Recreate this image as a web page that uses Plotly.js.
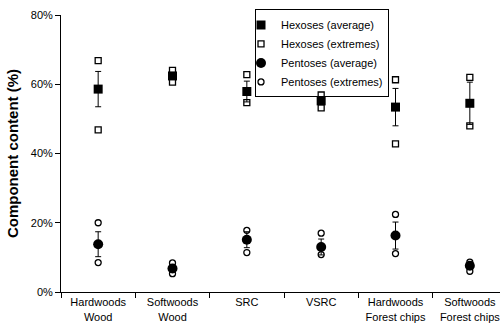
<!DOCTYPE html>
<html>
<head>
<meta charset="utf-8">
<script src="https://cdn.plot.ly/plotly-3.0.1.min.js"></script>
<style>
html,body{margin:0;padding:0;overflow:hidden;background:#fff;width:500px;height:329px;}
#chart{width:510px;height:329px;}
</style>
</head>
<body>
<div id="chart"></div>
<script>
const categories = ["Hardwoods<br>Wood","Softwoods<br>Wood","SRC","VSRC","Hardwoods<br>Forest chips","Softwoods<br>Forest chips"];
const hexAvg  = [58.6, 62.4, 57.9, 55.2, 53.4, 54.5];
const hexErr  = [5.1, 1.0, 3.0, 1.0, 5.4, 6.1];
const hexMin  = [46.8, 60.6, 54.7, 53.2, 42.8, 48.0];
const hexMax  = [66.8, 64.0, 62.8, 56.9, 61.3, 62.0];
const pentAvg = [13.8, 6.8, 15.1, 13.0, 16.3, 7.6];
const pentErr = [3.6, 1.0, 2.3, 2.3, 3.9, 0.8];
const pentMin = [8.5, 5.3, 11.4, 10.8, 11.1, 6.0];
const pentMax = [20.0, 8.4, 17.8, 17.0, 22.4, 8.6];
const yTicks  = [0, 20, 40, 60, 80];

const font = {family: "Liberation Sans, Arial, sans-serif", size: 11, color: "#000"};
const errStyle = {type: "data", visible: true, thickness: 1, width: 3, color: "#000"};

const traces = [
  {name: "Hexoses (average)", type: "scatter", mode: "markers", x: categories, y: hexAvg,
   marker: {symbol: "square", size: 9, color: "#000"},
   error_y: Object.assign({array: hexErr}, errStyle)},
  {name: "Hexoses (extremes)", type: "scatter", mode: "markers",
   x: categories.concat(categories), y: hexMin.concat(hexMax),
   marker: {symbol: "square-open", size: 6, color: "#000", line: {width: 1.3, color: "#000"}}},
  {name: "Pentoses (average)", type: "scatter", mode: "markers", x: categories, y: pentAvg,
   marker: {symbol: "circle", size: 10, color: "#000"},
   error_y: Object.assign({array: pentErr}, errStyle)},
  {name: "Pentoses (extremes)", type: "scatter", mode: "markers",
   x: categories.concat(categories), y: pentMin.concat(pentMax),
   marker: {symbol: "circle-open", size: 6, color: "#000", line: {width: 1.3, color: "#000"}}}
];

const layout = {
  width: 510, height: 329,
  margin: {l: 61, r: 3, t: 15, b: 37},
  paper_bgcolor: "#fff", plot_bgcolor: "#fff",
  font: font,
  showlegend: true,
  legend: {x: 0.435, y: 1.02, xanchor: "left", yanchor: "top",
           bordercolor: "#000", borderwidth: 1, bgcolor: "rgba(255,255,255,0)",
           font: font, tracegroupgap: 0, itemwidth: 30, indentation: -15},
  xaxis: {type: "category", categoryorder: "array", categoryarray: categories,
          range: [-0.5, 5.5], showline: true, linecolor: "#000", linewidth: 1,
          showgrid: false, zeroline: false, ticks: "outside", ticklen: 5,
          tickcolor: "#000", tickson: "boundaries", tickfont: font, automargin: false},
  yaxis: {range: [0, 80], tickvals: yTicks, ticktext: yTicks.map(v => v + "%"),
          showline: true, linecolor: "#000", linewidth: 1, showgrid: false,
          zeroline: false, ticks: "outside", ticklen: 5, tickcolor: "#000",
          tickfont: font, automargin: false,
          title: {text: "<b>Component content (%)</b>", standoff: 8,
                  font: {family: "Liberation Sans, Arial, sans-serif", size: 15, color: "#000"}}}
};

Plotly.newPlot("chart", traces, layout, {staticPlot: true, displayModeBar: false});
</script>
</body>
</html>
